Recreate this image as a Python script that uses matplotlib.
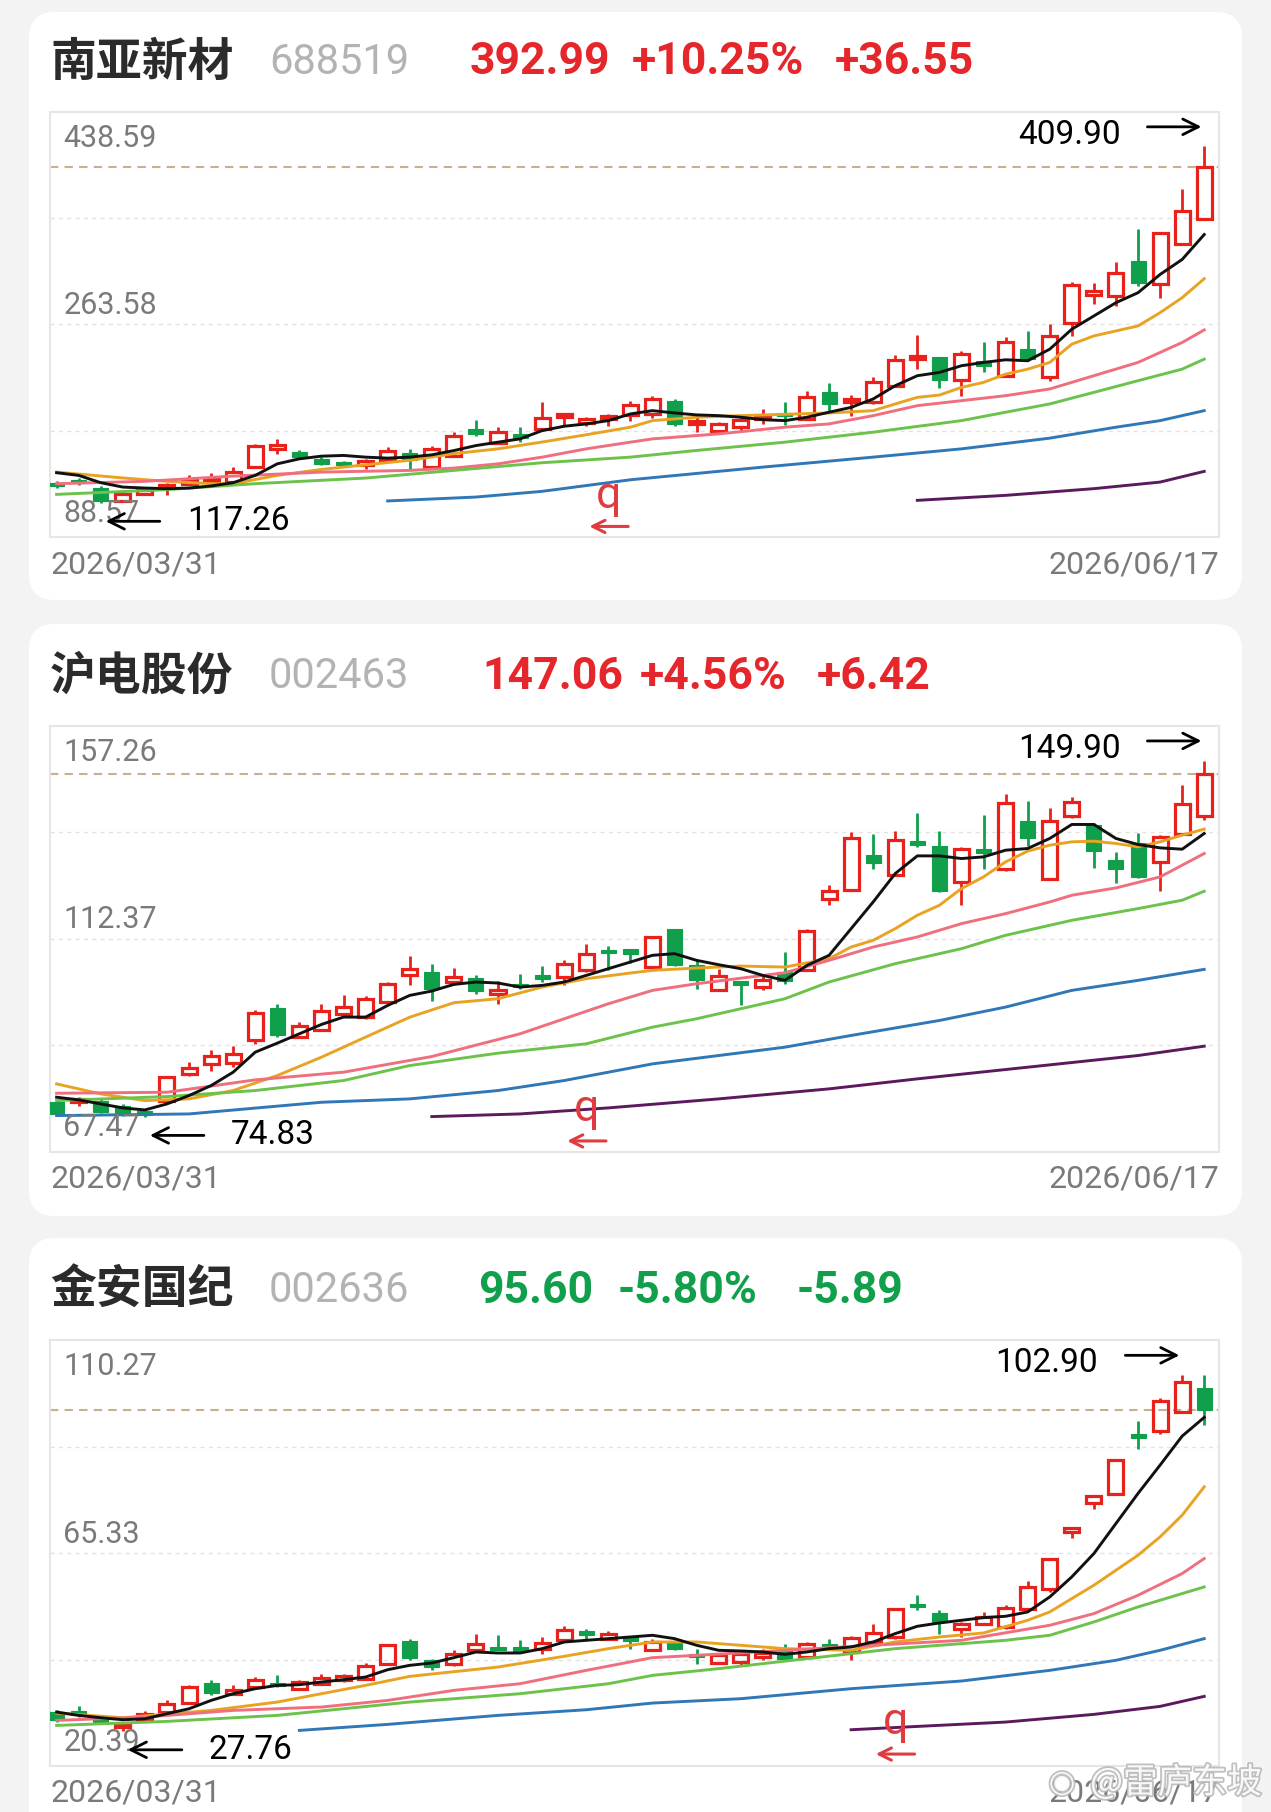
import numpy as np
import matplotlib
matplotlib.use('Agg')
import matplotlib.pyplot as plt
from matplotlib.patches import Rectangle, FancyBboxPatch
import matplotlib.patheffects as pe

W, H = 1271, 1812
RED = '#e5262b'
CRED = '#e8221b'   # candle red
GREEN = '#10a04c'
CJK = ['Noto Sans CJK SC', 'DejaVu Sans']
NUM = ['Roboto', 'DejaVu Sans']

# ---------------- data ----------------
names = ['南亚新材', '沪电股份', '金安国纪']
codes = ['688519', '002463', '002636']
last_price = ['392.99', '147.06', '95.60']
pct_chg = ['+10.25%', '+4.56%', '-5.80%']
abs_chg = ['+36.55', '+6.42', '-5.89']
date_first = '2026/03/31'
date_last = '2026/06/17'

# y axis labels (top, middle, bottom)
p1_ylab = ['438.59', '263.58', '88.57']
p2_ylab = ['157.26', '112.37', '67.47']
p3_ylab = ['110.27', '65.33', '20.39']

# panel 1 : 南亚新材
p1_open = [132.5, 135.2, 129.2, 118.8, 125.5, 129.2, 133.3, 134.7, 134.1, 146.4,
           162.3, 158.7, 153.2, 149.7, 148.3, 151.9, 158.1, 146.4, 155.3, 177.8,
           166.1, 172.9, 177.8, 188.2, 183.8, 186.0, 189.3, 190.0, 201.0, 182.7,
           176.4, 179.2, 186.5, 190.1, 186.0, 207.8, 199.7, 199.7, 213.3, 235.1,
           236.5, 218.2, 233.8, 221.5, 243.3, 220.1, 265.1, 288.3, 287.0, 315.6,
           296.5, 330.1, 350.3]
p1_high = [134.7, 137.7, 130.9, 124.8, 128.7, 133.6, 139.6, 141.8, 146.4, 165.5,
           169.6, 160.3, 154.6, 151.1, 153.2, 162.8, 160.9, 163.6, 175.6, 185.4,
           179.2, 179.2, 200.2, 190.1, 187.4, 190.1, 201.0, 205.1, 202.4, 187.4,
           183.2, 188.7, 194.2, 199.7, 209.2, 215.5, 205.6, 220.1, 238.4, 255.0,
           237.0, 241.9, 249.6, 253.4, 258.3, 263.8, 298.7, 297.9, 314.8, 342.4,
           339.4, 374.9, 409.90]
p1_low = [129.2, 132.0, 117.26, 117.6, 124.0, 123.8, 132.0, 133.3, 133.6, 145.6,
          157.3, 153.2, 148.3, 147.2, 145.1, 151.3, 145.1, 145.6, 154.6, 172.3,
          165.0, 167.4, 176.4, 180.5, 180.5, 180.5, 184.6, 187.0, 180.5, 175.1,
          175.1, 176.4, 181.9, 181.1, 185.4, 192.8, 188.7, 198.3, 212.7, 226.9,
          211.1, 205.1, 224.2, 220.9, 233.8, 217.4, 254.2, 280.2, 278.8, 295.2,
          285.6, 329.5, 349.8]
p1_close = [131.4, 134.1, 118.3, 124.4, 126.2, 132.0, 134.9, 137.7, 142.3, 163.6,
            163.3, 154.6, 149.1, 148.9, 151.6, 159.5, 151.9, 161.4, 171.8, 173.7,
            175.1, 171.0, 186.5, 189.5, 184.9, 188.2, 197.5, 202.4, 181.9, 183.8,
            181.9, 185.4, 187.6, 188.7, 203.7, 198.3, 202.4, 216.6, 234.6, 237.8,
            218.2, 239.2, 229.7, 248.8, 235.1, 254.2, 296.0, 290.3, 306.1, 297.9,
            338.8, 356.44, 392.99]
p1_ma5 = [141.8, 139.6, 133.6, 130.0, 129.2, 128.7, 129.2, 130.9, 133.6, 139.6,
          149.1, 153.2, 155.4, 156.0, 154.6, 153.8, 154.6, 156.5, 160.0, 164.1,
          166.9, 169.6, 176.4, 180.0, 181.9, 184.6, 190.1, 192.8, 190.9, 189.3,
          188.7, 187.4, 185.4, 184.6, 187.4, 191.5, 195.5, 202.4, 213.3, 221.5,
          224.2, 229.7, 232.4, 234.6, 233.8, 243.3, 259.7, 270.6, 281.5, 289.7,
          304.7, 317.0, 337.5]
p1_ma10_x = [0, 3, 5, 7, 8, 10, 12, 14, 16, 18, 20, 22, 24, 26, 27, 29, 31, 33, 35, 37,
             38, 39, 40, 41, 42, 43, 44, 45, 46, 47, 48, 49, 50, 51, 52]
p1_ma10 = [142.3, 137.5, 134.7, 132.8, 132.8, 139.6, 144.5, 148.3, 152.0, 157.5,
           161.4, 167.0, 173.0, 179.2, 184.6, 187.4, 188.7, 189.8, 190.9, 192.8,
           198.3, 203.7, 205.6, 211.9, 216.0, 222.8, 226.9, 232.4, 247.4, 254.2,
           258.3, 262.4, 273.3, 285.6, 301.2]
p1_ma20_x = [0, 4, 8, 12, 16, 18, 20, 22, 24, 26, 27, 30, 33, 35, 37, 39, 41, 43, 45,
             47, 49, 51, 52]
p1_ma20 = [132.8, 134.7, 139.0, 142.3, 143.7, 145.6, 149.1, 154.6, 161.4, 166.9,
           169.6, 173.7, 179.2, 181.9, 188.7, 196.9, 201.0, 205.1, 210.6, 221.5,
           232.4, 248.8, 259.1]
p1_ma30_x = [0, 5, 9, 14, 18, 22, 26, 29, 33, 37, 41, 43, 45, 47, 49, 51, 52]
p1_ma30 = [124.0, 127.9, 132.8, 137.4, 143.7, 150.0, 154.6, 160.1, 166.9, 175.1,
           184.6, 191.5, 198.3, 207.8, 217.4, 226.9, 235.1]
p1_ma60_x = [15, 19, 22, 26, 32, 37, 41, 45, 48, 50, 52]
p1_ma60 = [118.6, 121.8, 126.5, 136.0, 146.4, 154.6, 161.4, 170.2, 179.2, 184.6, 192.8]
p1_ma120_x = [39, 43, 47, 50, 52]
p1_ma120 = [119.1, 123.2, 128.7, 134.1, 142.9]

# panel 2 : 沪电股份
p2_open = [77.87, 78.08, 78.08, 77.17, 76.11, 78.22, 83.85, 85.97, 86.11, 90.89,
           97.79, 91.59, 93.00, 96.52, 95.82, 98.98, 104.61, 105.32, 103.21, 104.12,
           100.74, 102.71, 104.40, 104.26, 105.67, 109.89, 110.10, 106.40, 114.32, 106.72,
           101.45, 103.21, 102.15, 105.32, 105.67, 120.80, 122.56, 130.09, 125.86, 132.76,
           131.92, 124.32, 131.00, 126.99, 137.12, 124.88, 138.25, 136.28, 128.89, 132.41,
           128.54, 134.31, 138.25]
p2_high = [78.22, 78.93, 78.58, 77.52, 76.46, 83.50, 86.32, 88.78, 89.63, 97.22,
           98.49, 94.76, 98.63, 100.39, 100.18, 103.21, 108.62, 106.94, 106.16, 104.61,
           103.42, 104.82, 106.51, 107.78, 111.16, 110.74, 110.24, 112.90, 114.46, 107.78,
           106.02, 103.35, 104.97, 109.54, 114.32, 123.61, 134.73, 134.31, 135.01, 138.74,
           135.01, 131.71, 138.39, 142.75, 141.35, 139.80, 142.26, 136.63, 130.65, 134.52,
           134.17, 144.72, 149.90]
p2_low = [75.06, 77.17, 75.55, 75.06, 74.83, 77.87, 83.50, 84.56, 85.26, 90.19,
          91.59, 91.45, 92.86, 95.82, 95.47, 98.84, 102.50, 99.20, 102.50, 100.60,
          98.49, 101.80, 103.21, 102.50, 105.32, 105.67, 107.30, 106.20, 106.58, 101.80,
          101.30, 98.28, 101.45, 102.85, 105.53, 119.39, 122.42, 126.99, 125.72, 131.71,
          122.21, 119.39, 127.13, 126.57, 131.92, 124.70, 137.83, 127.27, 124.18, 125.16,
          122.35, 134.17, 137.33]
p2_close = [75.41, 78.37, 75.76, 75.55, 75.27, 83.15, 85.12, 87.72, 88.08, 96.66,
            91.95, 93.85, 97.08, 97.93, 99.69, 102.71, 105.88, 101.80, 104.26, 101.31,
            101.45, 102.29, 104.12, 106.94, 109.05, 109.33, 109.20, 112.70, 106.86, 103.56,
            104.47, 102.85, 103.56, 103.35, 113.97, 122.42, 133.48, 128.40, 133.11, 132.20,
            122.35, 131.21, 130.65, 140.85, 133.47, 137.12, 141.20, 130.79, 127.13, 125.37,
            133.82, 140.64, 147.06]
p2_ma5 = [78.93, 78.37, 77.52, 76.68, 76.25, 77.52, 79.28, 81.39, 84.21, 88.43,
          90.33, 92.30, 94.27, 95.82, 95.82, 98.28, 100.39, 101.31, 102.71, 103.21,
          103.00, 102.15, 102.50, 103.21, 104.61, 106.02, 107.43, 108.84, 109.19, 107.78,
          106.86, 106.02, 104.61, 103.56, 106.72, 108.83, 114.46, 120.09, 126.08, 129.80,
          129.80, 129.24, 129.59, 131.00, 131.35, 133.47, 136.42, 136.42, 133.47, 132.20,
          131.49, 131.21, 134.52]
p2_ma10_x = [0, 2, 4, 6, 8, 10, 12, 14, 16, 18, 20, 22, 24, 26, 27, 29, 31, 33, 35, 36,
             37, 38, 39, 40, 41, 42, 43, 44, 45, 46, 47, 48, 49, 50, 51, 52]
p2_ma10 = [81.74, 79.63, 78.22, 78.58, 80.34, 83.50, 87.37, 91.60, 95.80, 98.85,
           99.69, 102.15, 103.91, 105.11, 105.67, 106.16, 106.58, 106.37, 108.13, 110.59,
           112.00, 114.46, 117.28, 119.39, 122.91, 125.37, 128.54, 130.79, 132.06, 132.76,
           132.90, 132.41, 131.71, 132.76, 134.17, 135.44]
p2_ma20_x = [0, 5, 9, 13, 17, 21, 25, 27, 29, 33, 35, 37, 39, 41, 43, 45, 46, 48, 50, 51, 52]
p2_ma20 = [79.77, 79.98, 82.59, 84.21, 87.51, 92.30, 98.63, 101.45, 102.85, 105.18,
           107.78, 110.59, 112.71, 115.52, 117.63, 120.09, 121.50, 123.05, 125.37, 127.83,
           130.30]
p2_ma30_x = [0, 5, 9, 13, 16, 20, 24, 27, 29, 33, 35, 38, 41, 43, 46, 49, 51, 52]
p2_ma30 = [78.22, 79.07, 80.34, 82.45, 85.61, 88.22, 90.19, 93.70, 95.47, 99.69,
           103.21, 107.08, 110.24, 113.06, 116.22, 118.69, 120.45, 122.35]
p2_ma60_x = [0, 6, 12, 16, 20, 23, 27, 30, 33, 36, 40, 43, 46, 49, 52]
p2_ma60 = [75.06, 75.41, 77.87, 78.58, 80.34, 82.45, 85.96, 87.72, 89.48, 91.95,
           95.11, 97.93, 101.45, 103.56, 105.88]
p2_ma120_x = [17, 21, 25, 30, 35, 39, 44, 49, 52]
p2_ma120 = [74.85, 75.41, 76.68, 78.58, 80.69, 82.80, 85.26, 87.72, 89.69]

# panel 3 : 金安国纪
p3_open = [31.77, 31.70, 30.29, 28.74, 30.01, 31.77, 33.67, 37.89, 35.64, 37.05,
           37.89, 36.70, 37.75, 38.46, 38.81, 41.84, 46.77, 42.68, 41.84, 44.79,
           45.29, 45.36, 45.15, 46.91, 48.67, 47.26, 47.76, 44.80, 46.56, 44.09,
           42.12, 42.33, 43.39, 44.80, 43.39, 45.86, 44.45, 46.56, 47.61, 54.65,
           52.68, 49.37, 50.43, 49.73, 53.60, 57.82, 69.90, 75.91, 77.75, 90.21,
           91.12, 95.13, 100.06]
p3_high = [32.26, 32.97, 30.85, 29.66, 31.98, 34.23, 37.40, 38.60, 37.40, 39.16,
           39.51, 38.60, 39.73, 39.87, 42.12, 46.20, 47.26, 43.03, 44.79, 48.31,
           47.96, 47.05, 47.61, 49.86, 49.37, 48.88, 47.90, 47.26, 46.91, 45.15,
           44.09, 44.23, 45.15, 46.21, 46.56, 47.26, 47.76, 50.43, 53.74, 56.41,
           53.39, 50.78, 52.89, 54.30, 59.44, 64.37, 70.63, 77.67, 85.21, 93.23,
           97.95, 102.90, 102.80]
p3_low = [29.66, 30.71, 29.31, 27.76, 29.66, 31.56, 33.53, 35.29, 35.29, 36.70,
          37.05, 36.35, 37.40, 38.11, 38.46, 41.63, 42.68, 40.57, 41.49, 44.44,
          44.79, 44.44, 44.09, 46.77, 47.26, 46.91, 45.15, 44.66, 44.94, 41.98,
          41.84, 41.63, 42.69, 42.69, 43.04, 44.80, 42.83, 46.35, 47.26, 53.25,
          48.18, 47.61, 50.08, 49.37, 53.39, 57.12, 68.59, 74.51, 77.53, 87.18,
          90.42, 94.92, 92.32]
p3_close = [30.01, 31.42, 29.80, 29.02, 31.42, 33.53, 37.05, 35.78, 36.49, 38.46,
            37.40, 38.11, 38.95, 39.44, 41.49, 45.99, 43.25, 41.27, 43.95, 46.20,
            45.01, 44.79, 46.41, 49.16, 48.31, 48.17, 46.77, 46.56, 45.15, 43.39,
            43.74, 43.95, 44.30, 43.04, 46.07, 45.50, 47.47, 48.53, 53.46, 53.95,
            50.78, 50.43, 51.84, 53.81, 58.17, 64.02, 70.50, 77.39, 84.93, 89.85,
            97.46, 101.49, 95.60]
p3_ma5 = [31.77, 31.07, 30.57, 30.15, 30.36, 31.42, 32.47, 34.23, 35.64, 36.70,
          37.40, 37.54, 38.11, 38.60, 39.16, 40.71, 41.63, 42.12, 43.25, 44.44,
          44.23, 44.23, 45.15, 46.55, 46.91, 47.26, 47.61, 47.97, 47.26, 45.86,
          44.80, 44.66, 44.45, 43.95, 44.45, 45.15, 45.50, 46.56, 48.32, 49.87,
          50.57, 51.13, 51.70, 51.98, 52.89, 56.06, 60.29, 65.21, 71.55, 77.89,
          83.87, 89.99, 93.94]
p3_ma10_x = [0, 3, 7, 10, 14, 16, 20, 23, 25, 27, 29, 33, 36, 38, 40, 42, 44, 45, 46, 47,
             48, 49, 50, 51, 52]
p3_ma10 = [31.56, 30.57, 32.12, 33.88, 37.40, 39.30, 41.27, 43.53, 45.15, 46.55,
           46.56, 45.15, 44.80, 46.56, 47.61, 48.46, 51.13, 52.89, 55.71, 58.53,
           61.69, 64.86, 68.73, 73.31, 79.29]
p3_ma20_x = [0, 4, 8, 12, 15, 18, 21, 24, 27, 29, 33, 37, 41, 45, 47, 49, 51, 52]
p3_ma20 = [30.01, 30.71, 32.12, 32.83, 34.23, 36.35, 37.75, 40.57, 43.25, 43.74,
           44.80, 45.86, 46.91, 50.08, 52.54, 56.41, 60.99, 64.16]
p3_ma30_x = [0, 5, 10, 16, 21, 25, 27, 30, 34, 38, 43, 45, 47, 49, 51, 52]
p3_ma30 = [28.95, 29.80, 31.07, 33.88, 35.64, 37.75, 39.51, 40.93, 43.04, 45.15,
           46.91, 47.97, 50.78, 53.95, 56.77, 58.17]
p3_ma60_x = [11, 15, 20, 24, 27, 31, 36, 41, 45, 48, 50, 52]
p3_ma60 = [27.90, 29.17, 31.07, 32.26, 33.67, 34.59, 36.70, 38.32, 40.57, 42.69, 44.80, 47.26]
p3_ma120_x = [36, 39, 43, 47, 50, 52]
p3_ma120 = [28.04, 28.74, 29.66, 31.28, 32.97, 35.08]

ma_colors = ['#111111', '#e9a323', '#ef6f7f', '#6cc24a', '#2f77b6', '#5b1a5e']

# ---------------- layout ----------------
fig = plt.figure(figsize=(W / 100, H / 100), dpi=100)
fig.patch.set_facecolor('#f3f3f3')

bg = fig.add_axes([0, 0, 1, 1], zorder=0)
bg.set_xlim(0, W)
bg.set_ylim(H, 0)
bg.axis('off')

cards = [(12, 600), (624, 1216), (1238, 1850)]
for y0, y1 in cards:
    bg.add_patch(FancyBboxPatch((29, y0), 1213, y1 - y0,
                                boxstyle='round,pad=0,rounding_size=26',
                                fc='white', ec='none'))

plot_tops = [111.5, 725.6, 1340.0]
plot_h = 426.0
title_y = [62.5, 677, 1291]
stat_x = [(470, 632, 835), (482, 640, 817), (478, 618, 797)]
q_pos = [(0.478, 0.098, 0.026), (0.459, 0.099, 0.025), (0.723, 0.103, 0.028)]


def draw_panel(k, o, hi, lo, cl, ma5, mas, ylab):
    top = plot_tops[k]
    ax = fig.add_axes([50 / W, 1 - (top + plot_h) / H, 1169 / W, plot_h / H], zorder=1)
    ax.set_facecolor('white')
    for s in ax.spines.values():
        s.set_color('#e6e6e6')
        s.set_linewidth(1.5)
    ax.set_xticks([])
    ax.set_yticks([])

    ytop, ymid, ybot = float(ylab[0]), float(ylab[1]), float(ylab[2])
    ax.set_ylim(ybot, ytop)
    ax.set_xlim(-0.30, 52.67)
    rng = ytop - ybot

    # grid
    for f in (0.25, 0.5, 0.75):
        ax.axhline(ybot + f * rng, color='#e2e2e2', lw=1.0, ls=(0, (3, 3)), zorder=0)

    n = len(o)
    w = 0.68
    minh = rng * 0.008
    for i in range(n):
        up = cl[i] >= o[i]
        col = CRED if up else GREEN
        b0, b1 = min(o[i], cl[i]), max(o[i], cl[i])
        if b1 - b0 < minh:
            m = (b0 + b1) / 2
            b0, b1 = m - minh / 2, m + minh / 2
        if up:
            ax.plot([i, i], [b1, hi[i]], color=col, lw=2.0, zorder=2, solid_capstyle='butt')
            ax.plot([i, i], [lo[i], b0], color=col, lw=2.0, zorder=2, solid_capstyle='butt')
            ax.add_patch(Rectangle((i - w / 2, b0), w, b1 - b0, fill=False,
                                   ec=col, lw=2.3, zorder=3))
        else:
            ax.plot([i, i], [lo[i], hi[i]], color=col, lw=2.0, zorder=2, solid_capstyle='butt')
            ax.add_patch(Rectangle((i - w / 2, b0), w, b1 - b0, fc=col,
                                   ec=col, lw=0.8, zorder=3))

    # moving averages
    ax.plot(range(n), ma5, color=ma_colors[0], lw=2.1, zorder=5, solid_joinstyle='round')
    for (mx, mv), c in zip(mas, ma_colors[1:]):
        ax.plot(mx, mv, color=c, lw=2.1, zorder=4, solid_joinstyle='round')

    # last price line
    ax.axhline(cl[-1], color='#c7b08a', lw=1.5, ls=(0, (4, 3)), zorder=1)

    # axis labels inside
    lab = dict(color='#7a7a7a', fontsize=22, family=NUM, transform=ax.transAxes, zorder=6)
    ax.text(0.0115, 0.937, ylab[0], va='center', ha='left', **lab)
    ax.text(0.0115, 0.544, ylab[1], va='center', ha='left', **lab)
    ax.text(0.0115, 0.056, ylab[2], va='center', ha='left', **lab)

    # high / low annotations
    tr = ax.get_xaxis_transform()
    ih = int(np.argmax(hi))
    il = int(np.argmin(lo))
    ax.annotate('', xy=(ih, 0.964), xytext=(ih - 2.7, 0.964), xycoords=tr, textcoords=tr,
                arrowprops=dict(arrowstyle='->', color='black', lw=2, mutation_scale=28),
                zorder=7)
    ax.text(ih - 3.8, 0.945, f'{max(hi):.2f}', transform=tr, ha='right', va='center',
            fontsize=24, family=NUM, color='black', zorder=7)
    tip = il + 0.1
    ax.annotate('', xy=(tip, 0.038), xytext=(tip + 2.7, 0.038), xycoords=tr, textcoords=tr,
                arrowprops=dict(arrowstyle='->', color='black', lw=2, mutation_scale=28),
                zorder=7)
    ax.text(tip + 3.8, 0.038, f'{min(lo):.2f}', transform=tr, ha='left', va='center',
            fontsize=24, family=NUM, color='black', zorder=7)

    # red q marker
    qx, qy, ay = q_pos[k]
    ax.text(qx, qy, 'q', transform=ax.transAxes, ha='center', va='center',
            fontsize=32, family=NUM, color='#e03c3f', zorder=7)
    ax.annotate('', xy=(qx - 0.019, ay), xytext=(qx + 0.019, ay),
                xycoords='axes fraction', textcoords='axes fraction',
                arrowprops=dict(arrowstyle='->', color='#e03c3f', lw=2.2, mutation_scale=22),
                zorder=7)

    # title line
    ty = title_y[k]
    sc = RED if pct_chg[k].startswith('+') else GREEN
    bg.text(50, ty, names[k], fontsize=33, family=CJK, fontweight='bold',
            color='#2b2b2b', va='center', ha='left')
    bg.text(269, ty, codes[k], fontsize=30, family=NUM, color='#b3b3b3',
            va='center', ha='left')
    for txt, x in zip((last_price[k], pct_chg[k], abs_chg[k]), stat_x[k]):
        bg.text(x, ty, txt, fontsize=32, family=NUM, fontweight='bold', color=sc,
                va='center', ha='left')

    # dates
    dy = top + plot_h + 27
    bg.text(50, dy, date_first, fontsize=23, family=NUM, color='#7a7a7a', va='center', ha='left')
    bg.text(1219, dy, date_last, fontsize=23, family=NUM, color='#7a7a7a', va='center', ha='right')


draw_panel(0, p1_open, p1_high, p1_low, p1_close, p1_ma5,
           [(p1_ma10_x, p1_ma10), (p1_ma20_x, p1_ma20), (p1_ma30_x, p1_ma30),
            (p1_ma60_x, p1_ma60), (p1_ma120_x, p1_ma120)], p1_ylab)
draw_panel(1, p2_open, p2_high, p2_low, p2_close, p2_ma5,
           [(p2_ma10_x, p2_ma10), (p2_ma20_x, p2_ma20), (p2_ma30_x, p2_ma30),
            (p2_ma60_x, p2_ma60), (p2_ma120_x, p2_ma120)], p2_ylab)
draw_panel(2, p3_open, p3_high, p3_low, p3_close, p3_ma5,
           [(p3_ma10_x, p3_ma10), (p3_ma20_x, p3_ma20), (p3_ma30_x, p3_ma30),
            (p3_ma60_x, p3_ma60), (p3_ma120_x, p3_ma120)], p3_ylab)

# watermark (sits over the last date label, as in the source)
wm = fig.add_axes([0, 0, 1, 1], zorder=3)
wm.set_xlim(0, W)
wm.set_ylim(H, 0)
wm.axis('off')
wm.text(1262, 1783, '@雷庐东坡', fontsize=25, family=CJK, color='white', alpha=0.9,
        ha='right', va='center',
        path_effects=[pe.withStroke(linewidth=2.5, foreground='#b8b8b8')])
wm.text(1062, 1783, '◉', fontsize=22, family=['DejaVu Sans'], color='white', alpha=0.9,
        ha='center', va='center',
        path_effects=[pe.withStroke(linewidth=2.5, foreground='#b8b8b8')])

fig.savefig('out.png', dpi=100, facecolor=fig.get_facecolor())
